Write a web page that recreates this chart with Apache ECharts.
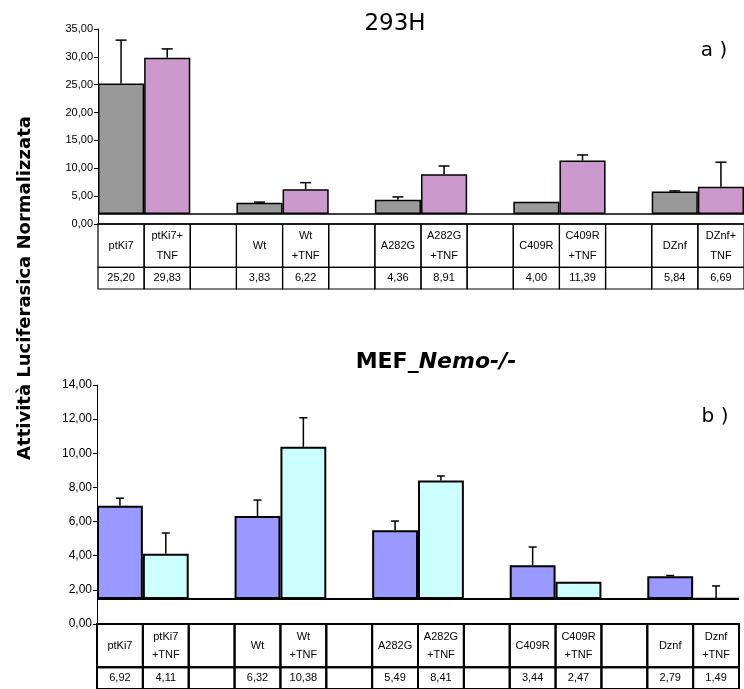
<!DOCTYPE html>
<html><head><meta charset="utf-8">
<script src="https://cdn.jsdelivr.net/npm/echarts@6/dist/echarts.min.js"></script>
<style>html,body{margin:0;padding:0;background:#fff}#c{width:744px;height:689px}</style>
</head><body><div id="c"></div>
<script>
// ---- data ----
const groupsA = ['ptKi7', 'Wt', 'A282G', 'C409R', 'DZnf'];
const groupsB = ['ptKi7', 'Wt', 'A282G', 'C409R', 'Dznf'];
const tableLabelsA = ['ptKi7', 'ptKi7+\nTNF', 'Wt', 'Wt\n+TNF', 'A282G', 'A282G\n+TNF', 'C409R', 'C409R\n+TNF', 'DZnf', 'DZnf+\nTNF'];
const tableLabelsB = ['ptKi7', 'ptKi7\n+TNF', 'Wt', 'Wt\n+TNF', 'A282G', 'A282G\n+TNF', 'C409R', 'C409R\n+TNF', 'Dznf', 'Dznf\n+TNF'];
const ctrlA = [25.20, 3.83, 4.36, 4.00, 5.84];
const tnfA = [29.83, 6.22, 8.91, 11.39, 6.69];
const ctrlErrA = [7.8, 0.1, 0.5, 0, 0.1];
const tnfErrA = [1.6, 1.2, 1.5, 1.0, 4.4];
const ctrlB = [6.92, 6.32, 5.49, 3.44, 2.79];
const tnfB = [4.11, 10.38, 8.41, 2.47, 1.49];
const ctrlErrB = [0.45, 0.94, 0.54, 1.07, 0.05];
const tnfErrB = [1.22, 1.7, 0.26, 0, 0.74];
const baselineA = 1.8;
const baselineB = 1.47;
const yAxisA = { min: 0, max: 35, interval: 5 };
const yAxisB = { min: 0, max: 14, interval: 2 };

const fmt = v => v.toFixed(2).replace('.', ',');

function errRender(capW, lw) {
  return function (params, api) {
    const x = api.value(0);
    const p0 = api.coord([x, api.value(1)]);
    const p1 = api.coord([x, api.value(2)]);
    const st = { stroke: '#000', lineWidth: lw };
    return { type: 'group', children: [
      { type: 'line', shape: { x1: p0[0], y1: p0[1], x2: p1[0], y2: p1[1] }, style: st },
      { type: 'line', shape: { x1: p1[0] - capW / 2, y1: p1[1], x2: p1[0] + capW / 2, y2: p1[1] }, style: st }
    ] };
  };
}

function tableRender(texts, lw, fs, lh) {
  return function (params, api) {
    const c = api.value(0), r = api.value(1);
    const top = r === 0 ? 3 : 1, bot = r === 0 ? 1 : 0;
    const a = api.coord([c, top]), b = api.coord([c, bot]);
    const w = api.size([1, 0])[0];
    return { type: 'group', children: [
      { type: 'rect', shape: { x: a[0] - w / 2, y: a[1], width: w, height: b[1] - a[1] },
        style: { fill: 'none', stroke: '#000', lineWidth: lw } },
      { type: 'text', x: a[0], y: (a[1] + b[1]) / 2,
        style: { text: texts[params.dataIndex], fill: '#000', fontSize: fs, fontFamily: '"Liberation Sans", Arial, sans-serif',
                 align: 'center', verticalAlign: 'middle', lineHeight: lh } }
    ] };
  };
}

const option = { animation: false, backgroundColor: '#fff', grid: [], xAxis: [], yAxis: [], series: [] };

function addPanel(p) {
  const n = p.ctrl.length, ncol = n * 3 - 1;
  const cols = Array.from({ length: ncol }, (_, i) => 'col' + i);
  const baseData = [], ctrlData = [], tnfData = [], errData = [], cellData = [], cellText = [];
  for (let c = 0; c < ncol; c++) {
    const g = Math.floor(c / 3), k = c % 3;
    baseData.push(k < 2 ? p.base : '-');
    ctrlData.push(k === 0 ? +(p.ctrl[g] - p.base).toFixed(4) : '-');
    tnfData.push(k === 1 ? +(p.tnf[g] - p.base).toFixed(4) : '-');
    if (k === 0 && p.ctrlErr[g] > 0) errData.push([c, p.ctrl[g], p.ctrl[g] + p.ctrlErr[g]]);
    if (k === 1 && p.tnfErr[g] > 0) errData.push([c, p.tnf[g], p.tnf[g] + p.tnfErr[g]]);
    cellData.push([c, 0]);
    cellText.push(k === 2 ? '' : p.labels[g * 2 + k]);
    cellData.push([c, 1]);
    cellText.push(k === 2 ? '' : fmt(k === 0 ? p.ctrl[g] : p.tnf[g]));
  }
  const gi = option.grid.length;
  option.grid.push(p.chartGrid, p.tableGrid);
  option.xAxis.push(
    { type: 'category', gridIndex: gi, data: cols, boundaryGap: true,
      axisLine: { show: true, lineStyle: { color: '#000', width: p.axisW } },
      axisTick: { show: false }, axisLabel: { show: false }, splitLine: { show: false } },
    { type: 'category', gridIndex: gi + 1, data: cols, boundaryGap: true, show: false }
  );
  option.yAxis.push(
    { type: 'value', gridIndex: gi, min: p.y.min, max: p.y.max, interval: p.y.interval,
      axisLine: { show: true, lineStyle: { color: '#000', width: 1 } },
      axisTick: { show: true, length: 4, lineStyle: { color: '#000' } },
      axisLabel: { color: '#000', fontSize: p.tickFs, fontFamily: '"Liberation Sans", Arial, sans-serif', margin: 5, formatter: fmt },
      splitLine: { show: false } },
    { type: 'value', gridIndex: gi + 1, min: 0, max: 3, show: false }
  );
  option.series.push(
    { type: 'bar', name: 'base', xAxisIndex: gi, yAxisIndex: gi, stack: 'p' + gi, data: baseData,
      barWidth: '100%', silent: true, itemStyle: { color: 'rgba(0,0,0,0)', borderWidth: 0 },
      markLine: { silent: true, symbol: 'none', label: { show: false },
        lineStyle: { color: '#000', width: p.axisW, type: 'solid' }, data: [{ yAxis: p.base }] } },
    { type: 'bar', name: p.names[0], xAxisIndex: gi, yAxisIndex: gi, stack: 'p' + gi, data: ctrlData,
      barWidth: '100%', itemStyle: { color: p.colors[0], borderColor: '#000', borderWidth: p.bw } },
    { type: 'bar', name: p.names[1], xAxisIndex: gi, yAxisIndex: gi, stack: 'p' + gi, data: tnfData,
      barWidth: '100%', itemStyle: { color: p.colors[1], borderColor: '#000', borderWidth: p.bw } },
    { type: 'custom', name: 'err', xAxisIndex: gi, yAxisIndex: gi, data: errData, z: 5,
      encode: { x: 0, y: [1, 2] }, renderItem: errRender(p.capW, p.errW) },
    { type: 'custom', name: 'table', xAxisIndex: gi + 1, yAxisIndex: gi + 1, data: cellData,
      encode: { x: 0, y: 1 }, renderItem: tableRender(cellText, p.tableW, 11, p.lh) }
  );
}

addPanel({
  ctrl: ctrlA, tnf: tnfA, ctrlErr: ctrlErrA, tnfErr: tnfErrA, labels: tableLabelsA, base: baselineA,
  y: yAxisA, names: ['ctrl', '+TNF'], colors: ['#999999', '#CC99CC'],
  chartGrid: { left: 98, right: -3, top: 29, height: 195 },
  tableGrid: { left: 98, right: -3, top: 224, height: 65 },
  bw: 1.5, axisW: 1.5, capW: 11, errW: 1.5, tableW: 1.2, tickFs: 11, lh: 20
});
addPanel({
  ctrl: ctrlB, tnf: tnfB, ctrlErr: ctrlErrB, tnfErr: tnfErrB, labels: tableLabelsB, base: baselineB,
  y: yAxisB, names: ['ctrl', '+TNF'], colors: ['#9999FF', '#CCFFFF'],
  chartGrid: { left: 97, right: 5, top: 385, height: 239 },
  tableGrid: { left: 97, right: 5, top: 624, height: 66 },
  bw: 2, axisW: 2, capW: 8, errW: 1.5, tableW: 2, tickFs: 12, lh: 18
});

option.graphic = [
  { type: 'text', x: 395, y: 24, style: { text: '293H', fill: '#000', fontSize: 23, fontFamily: '"DejaVu Sans", sans-serif', align: 'center', verticalAlign: 'middle' } },
  { type: 'text', x: 714, y: 51, style: { text: 'a )', fill: '#000', fontSize: 20, fontFamily: '"DejaVu Sans", sans-serif', align: 'center', verticalAlign: 'middle' } },
  { type: 'text', x: 436, y: 362, style: { text: '{a|MEF_}{b|Nemo-/-}', fill: '#000', align: 'center', verticalAlign: 'middle',
      rich: { a: { fontSize: 22, fontWeight: 'bold', fontFamily: '"DejaVu Sans", sans-serif' },
              b: { fontSize: 22, fontWeight: 'bold', fontStyle: 'italic', fontFamily: '"DejaVu Sans", sans-serif' } } } },
  { type: 'text', x: 715, y: 417, style: { text: 'b )', fill: '#000', fontSize: 20, fontFamily: '"DejaVu Sans", sans-serif', align: 'center', verticalAlign: 'middle' } },
  { type: 'text', x: 25, y: 288, rotation: Math.PI / 2, style: { text: 'Attività Luciferasica Normalizzata', fill: '#000', fontSize: 18, fontWeight: 'bold', fontFamily: '"DejaVu Sans", sans-serif', align: 'center', verticalAlign: 'middle' } }
];

const chart = echarts.init(document.getElementById('c'), null, { renderer: 'canvas' });
chart.setOption(option);
</script>
</body></html>
